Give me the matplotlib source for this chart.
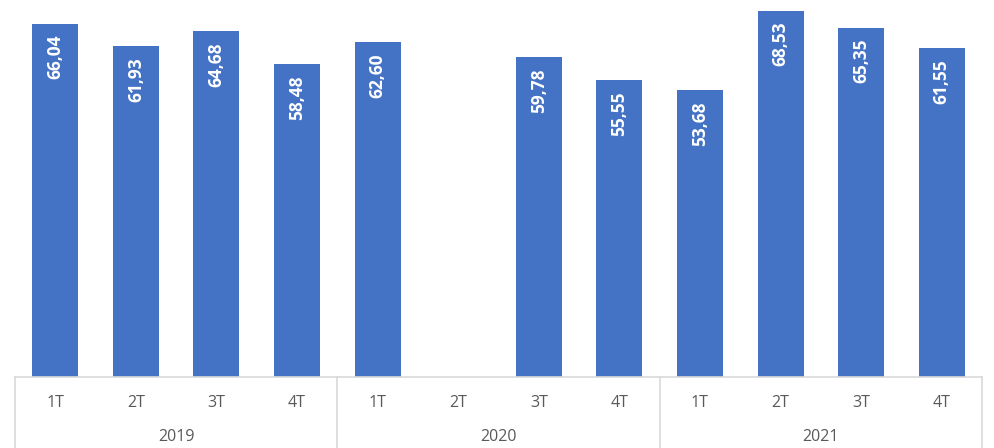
import numpy as np
import matplotlib
matplotlib.use("Agg")
import matplotlib.pyplot as plt
from matplotlib.lines import Line2D

years = ["2019", "2020", "2021"]
quarters = ["1T", "2T", "3T", "4T"]
values = [66.04, 61.93, 64.68, 58.48,
          62.60, np.nan, 59.78, 55.55,
          53.68, 68.53, 65.35, 61.55]

W, H = 994, 448
fig = plt.figure(figsize=(W / 100, H / 100), dpi=100)
left, right, top, base = 15, 982, 0, 377
ax = fig.add_axes([left / W, (H - base) / H, (right - left) / W, (base - top) / H])

bar_color = "#4472C4"
grid_color = "#D9D9D9"
text_color = "#595959"
font = ["Open Sans", "DejaVu Sans"]

x = np.arange(len(values))
ax.bar(x, values, width=0.57, color=bar_color)
ax.set_xlim(-0.5, len(values) - 0.5)
ax.set_ylim(0, 70.5)
for s in ["top", "left", "right", "bottom"]:
    ax.spines[s].set_visible(False)
ax.set_xticks([])
ax.set_yticks([])

for xi, v in zip(x, values):
    if np.isnan(v):
        continue
    ax.annotate(f"{v:.2f}".replace(".", ","), (xi, v), xytext=(0, -8),
                textcoords="offset points", rotation=90, ha="center", va="top",
                color="white", fontsize=12.5, fontweight="bold", family=font)

def fx(px):
    return px / W

def fy(py):
    return 1 - py / H

fig.add_artist(Line2D([fx(left), fx(right)], [fy(base), fy(base)], color=grid_color, lw=1.2))
slot = (right - left) / len(values)
for i in range(len(years) + 1):
    xp = left + i * 4 * slot
    fig.add_artist(Line2D([fx(xp), fx(xp)], [fy(base), 0], color=grid_color, lw=1.2))

for i in range(len(values)):
    xc = left + (i + 0.5) * slot
    fig.text(fx(xc), fy(403), quarters[i % 4], ha="center", va="center",
             color=text_color, fontsize=11.5, family=font)
for j, yr in enumerate(years):
    xc = left + (j * 4 + 2) * slot
    fig.text(fx(xc), fy(437), yr, ha="center", va="center",
             color=text_color, fontsize=11.5, family=font)

fig.savefig("out.png", dpi=100)
